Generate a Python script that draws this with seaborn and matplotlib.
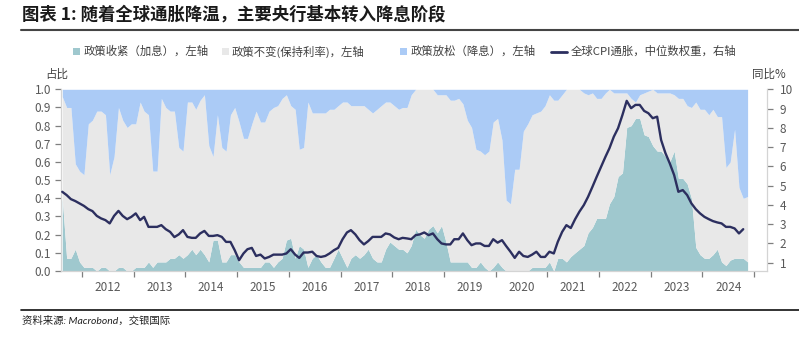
import numpy as np
import pandas as pd
import matplotlib
matplotlib.use("Agg")
import matplotlib.pyplot as plt
import matplotlib.dates as mdates
from matplotlib.patches import Rectangle
from matplotlib.lines import Line2D
from matplotlib.ticker import FixedLocator, FormatStrFormatter, NullFormatter
import seaborn as sns

sns.set_theme(style="white")
plt.rcParams["font.family"] = ["Noto Sans CJK SC", "DejaVu Sans"]
plt.rcParams["axes.unicode_minus"] = False

# Monthly observations, Aug 2011 - Nov 2024
months = pd.date_range("2011-08-01", "2024-11-01", freq="MS") + pd.Timedelta(days=14)

# Share of central banks hiking (left axis)
tightening = [
    0.40, 0.07, 0.07, 0.12, 0.05, 0.02, 0.02, 0.02, 0.00, 0.02,
    0.02, 0.00, 0.00, 0.02, 0.02, 0.00, 0.00, 0.02, 0.02, 0.02,
    0.05, 0.02, 0.05, 0.05, 0.05, 0.07, 0.07, 0.09, 0.07, 0.09,
    0.12, 0.09, 0.12, 0.09, 0.05, 0.17, 0.17, 0.05, 0.05, 0.09,
    0.09, 0.05, 0.02, 0.02, 0.02, 0.02, 0.02, 0.05, 0.05, 0.02,
    0.05, 0.07, 0.17, 0.18, 0.07, 0.14, 0.12, 0.02, 0.07, 0.09,
    0.05, 0.02, 0.02, 0.07, 0.12, 0.07, 0.02, 0.07, 0.09, 0.07,
    0.09, 0.12, 0.07, 0.05, 0.05, 0.12, 0.16, 0.14, 0.12, 0.12,
    0.10, 0.14, 0.23, 0.20, 0.18, 0.23, 0.25, 0.21, 0.25, 0.16,
    0.05, 0.05, 0.05, 0.05, 0.05, 0.02, 0.02, 0.05, 0.02, 0.00,
    0.02, 0.05, 0.02, 0.00, 0.00, 0.00, 0.00, 0.00, 0.00, 0.02,
    0.02, 0.02, 0.02, 0.05, 0.00, 0.07, 0.07, 0.05, 0.08, 0.10,
    0.12, 0.14, 0.21, 0.24, 0.29, 0.29, 0.29, 0.37, 0.41, 0.52,
    0.54, 0.79, 0.80, 0.84, 0.84, 0.75, 0.74, 0.69, 0.66, 0.66,
    0.63, 0.60, 0.66, 0.51, 0.51, 0.48, 0.40, 0.13, 0.09, 0.07,
    0.07, 0.09, 0.12, 0.05, 0.03, 0.06, 0.07, 0.07, 0.07, 0.05,
]

# Share of central banks on hold (left axis)
unchanged = [
    0.56, 0.83, 0.83, 0.47, 0.50, 0.51, 0.79, 0.81, 0.88, 0.86,
    0.84, 0.53, 0.63, 0.88, 0.81, 0.79, 0.81, 0.79, 0.91, 0.86,
    0.81, 0.53, 0.50, 0.90, 0.85, 0.81, 0.81, 0.59, 0.59, 0.84,
    0.81, 0.80, 0.82, 0.88, 0.64, 0.46, 0.69, 0.63, 0.61, 0.77,
    0.81, 0.77, 0.71, 0.71, 0.79, 0.86, 0.80, 0.77, 0.83, 0.88,
    0.86, 0.88, 0.80, 0.73, 0.82, 0.53, 0.56, 0.91, 0.80, 0.78,
    0.82, 0.85, 0.87, 0.82, 0.79, 0.86, 0.91, 0.84, 0.82, 0.84,
    0.82, 0.77, 0.80, 0.84, 0.86, 0.81, 0.77, 0.77, 0.77, 0.78,
    0.80, 0.83, 0.77, 0.80, 0.82, 0.77, 0.75, 0.76, 0.72, 0.81,
    0.89, 0.89, 0.90, 0.87, 0.78, 0.77, 0.65, 0.61, 0.62, 0.66,
    0.80, 0.79, 0.70, 0.39, 0.37, 0.56, 0.56, 0.77, 0.81, 0.84,
    0.85, 0.86, 0.89, 0.92, 0.94, 0.87, 0.90, 0.95, 0.92, 0.90,
    0.88, 0.84, 0.76, 0.74, 0.66, 0.66, 0.69, 0.63, 0.57, 0.46,
    0.44, 0.19, 0.15, 0.09, 0.13, 0.23, 0.25, 0.31, 0.32, 0.32,
    0.35, 0.38, 0.31, 0.44, 0.44, 0.43, 0.50, 0.80, 0.80, 0.82,
    0.79, 0.80, 0.73, 0.80, 0.54, 0.54, 0.71, 0.39, 0.33, 0.36,
]

# Share of central banks cutting (left axis)
easing = [
    0.04, 0.10, 0.10, 0.41, 0.45, 0.47, 0.19, 0.17, 0.12, 0.12,
    0.14, 0.47, 0.37, 0.10, 0.17, 0.21, 0.19, 0.19, 0.07, 0.12,
    0.14, 0.45, 0.45, 0.05, 0.10, 0.12, 0.12, 0.32, 0.34, 0.07,
    0.07, 0.11, 0.06, 0.03, 0.31, 0.37, 0.14, 0.32, 0.34, 0.14,
    0.10, 0.18, 0.27, 0.27, 0.19, 0.12, 0.18, 0.18, 0.12, 0.10,
    0.09, 0.05, 0.03, 0.09, 0.11, 0.33, 0.32, 0.07, 0.13, 0.13,
    0.13, 0.13, 0.11, 0.11, 0.09, 0.07, 0.07, 0.09, 0.09, 0.09,
    0.09, 0.11, 0.13, 0.11, 0.09, 0.07, 0.07, 0.09, 0.11, 0.10,
    0.10, 0.03, 0.00, 0.00, 0.00, 0.00, 0.00, 0.03, 0.03, 0.03,
    0.06, 0.06, 0.05, 0.08, 0.17, 0.21, 0.33, 0.34, 0.36, 0.34,
    0.18, 0.16, 0.28, 0.61, 0.63, 0.44, 0.44, 0.23, 0.19, 0.14,
    0.13, 0.12, 0.09, 0.03, 0.06, 0.06, 0.03, 0.00, 0.00, 0.00,
    0.00, 0.02, 0.03, 0.02, 0.05, 0.05, 0.02, 0.00, 0.02, 0.02,
    0.02, 0.02, 0.05, 0.07, 0.03, 0.02, 0.01, 0.00, 0.02, 0.02,
    0.02, 0.02, 0.03, 0.05, 0.05, 0.09, 0.10, 0.07, 0.11, 0.11,
    0.14, 0.11, 0.15, 0.15, 0.43, 0.40, 0.22, 0.54, 0.60, 0.59,
]

# Global CPI inflation, median-weighted, % y/y (right axis)
cpi = [
    4.68, 4.51, 4.30, 4.20, 4.08, 3.95, 3.78, 3.68, 3.43, 3.30,
    3.21, 3.04, 3.43, 3.69, 3.43, 3.26, 3.38, 3.56, 3.21, 3.38,
    2.86, 2.86, 2.86, 2.95, 2.74, 2.60, 2.33, 2.47, 2.69, 2.34,
    2.29, 2.29, 2.52, 2.65, 2.39, 2.39, 2.43, 2.34, 2.08, 2.08,
    1.65, 1.13, 1.48, 1.70, 1.77, 1.35, 1.42, 1.22, 1.30, 1.42,
    1.42, 1.42, 1.48, 1.70, 1.42, 1.25, 1.53, 1.53, 1.57, 1.35,
    1.30, 1.35, 1.48, 1.65, 1.77, 2.22, 2.57, 2.69, 2.47, 2.17,
    1.95, 2.12, 2.34, 2.34, 2.34, 2.52, 2.47, 2.31, 2.22, 2.29,
    2.26, 2.22, 2.43, 2.47, 2.57, 2.43, 2.52, 2.22, 2.00, 1.95,
    1.95, 2.22, 2.22, 2.52, 2.17, 1.91, 2.00, 2.00, 1.87, 1.87,
    2.22, 2.04, 2.17, 1.87, 1.57, 1.25, 1.57, 1.35, 1.30, 1.42,
    1.57, 1.30, 1.30, 1.57, 1.48, 2.08, 2.60, 2.95, 2.80, 3.25,
    3.65, 3.99, 4.42, 4.94, 5.46, 5.98, 6.50, 6.94, 7.54, 7.98,
    8.67, 9.40, 9.02, 9.19, 9.19, 8.88, 8.76, 8.50, 8.58, 7.37,
    6.68, 6.16, 5.55, 4.68, 4.77, 4.51, 4.08, 3.78, 3.56, 3.38,
    3.26, 3.16, 3.09, 3.04, 2.86, 2.86, 2.78, 2.52, 2.74, np.nan,
]

left_ticks = [round(0.1 * k, 1) for k in range(11)]
right_ticks = list(range(1, 11))

legend_labels = [
    "政策收紧（加息），左轴",
    "政策不变(保持利率)，左轴",
    "政策放松（降息），左轴",
    "全球CPI通胀，中位数权重，右轴",
]

TEAL = "#9fc8ce"
GRAY = "#e8e8e8"
BLUE = "#abcbf6"
NAVY = "#2c2f5f"
TICK = "#595959"
SPINE = "#d4d4d4"

W, H = 799, 338


def fx(x):
    return x / W


def fy(y):
    return 1 - y / H


fig = plt.figure(figsize=(W / 100, H / 100), dpi=100)
fig.patch.set_facecolor("white")

ax = fig.add_axes([fx(60.7), fy(271), fx(767) - fx(60.7), fy(89.3) - fy(271)])
ax.stackplot(months, tightening, unchanged, easing,
             colors=[TEAL, GRAY, BLUE], linewidth=0, zorder=1)

ax2 = ax.twinx()
df = pd.DataFrame({"month": months, "cpi": cpi}).dropna()
sns.lineplot(data=df, x="month", y="cpi", ax=ax2, color=NAVY,
             linewidth=1.7, zorder=3)
ax2.set_xlabel("")
ax2.set_ylabel("")
ax.set_xlabel("")
ax.set_ylabel("")

ax.set_ylim(0, 1.0)
ax2.set_ylim(0.57, 10.0)
ax.set_xlim(pd.Timestamp("2011-08-04"), pd.Timestamp("2025-04-01"))

# Year boundaries as tick marks, year labels centred in each year
ax.xaxis.set_major_locator(mdates.YearLocator())
ax.xaxis.set_major_formatter(NullFormatter())
ax.xaxis.set_minor_locator(mdates.MonthLocator(bymonth=7, bymonthday=1))
ax.xaxis.set_minor_formatter(mdates.DateFormatter("%Y"))

ax.set_yticks(left_ticks)
ax.yaxis.set_major_formatter(FormatStrFormatter("%.1f"))
ax2.set_yticks(right_ticks)

ax.tick_params(axis="x", which="major", bottom=True, direction="out",
               length=4.5, width=0.9, color="#7f7f7f")
ax.tick_params(axis="x", which="minor", bottom=True, length=0, pad=7,
               labelsize=8.5, labelcolor=TICK)
ax.tick_params(axis="y", left=True, direction="out", length=4, width=0.9,
               color="#7f7f7f", pad=3, labelsize=8.5, labelcolor=TICK)
ax2.tick_params(axis="y", right=True, direction="out", length=4, width=0.9,
                color="#7f7f7f", pad=5, labelsize=8.5, labelcolor=TICK)

for s in ["top", "right"]:
    ax.spines[s].set_visible(False)
for s in ["left", "bottom"]:
    ax.spines[s].set_color(SPINE)
    ax.spines[s].set_linewidth(0.9)
for s in ["top", "left", "bottom"]:
    ax2.spines[s].set_visible(False)
ax2.spines["right"].set_color(SPINE)
ax2.spines["right"].set_linewidth(0.9)
ax.grid(False)
ax2.grid(False)

# Title and rules
fig.text(fx(22), fy(15), "图表 1: 随着全球通胀降温，主要央行基本转入降息阶段",
         fontsize=12.5, fontweight="bold", color="#1a1a1a",
         ha="left", va="center")
fig.add_artist(Line2D([fx(21), fx(799)], [fy(29.5), fy(29.5)],
                      color="#444444", lw=1.5, transform=fig.transFigure))
fig.add_artist(Line2D([fx(21), fx(799)], [fy(310), fy(310)],
                      color="#111111", lw=1.2, transform=fig.transFigure))
fig.text(fx(22), fy(321), "资料来源: Macrobond，交银国际", fontsize=7.5,
         style="italic", family=["Lato", "Noto Sans CJK SC"],
         color="#222222", ha="left", va="center")

# Axis captions
fig.text(fx(45), fy(74), "占比", fontsize=8.3, color="#404040",
         ha="left", va="center")
fig.text(fx(752), fy(74), "同比%", fontsize=8.3, color="#404040",
         ha="left", va="center")

# Legend row
ly = 51.5
sq = 7.3
for x0, col in [(72.7, TEAL), (221.7, GRAY), (400, BLUE)]:
    fig.add_artist(Rectangle((fx(x0), fy(ly + sq / 2)), sq / W, sq / H,
                             facecolor=col, edgecolor="none",
                             transform=fig.transFigure))
fig.add_artist(Line2D([fx(551), fx(567)], [fy(ly), fy(ly)], color=NAVY,
                      lw=2.0, transform=fig.transFigure))
for x0, txt in zip([83.5, 232, 410.5, 571], legend_labels):
    fig.text(fx(x0), fy(ly), txt, fontsize=8.2, color="#404040",
             ha="left", va="center")

fig.savefig("out.png", dpi=100)
